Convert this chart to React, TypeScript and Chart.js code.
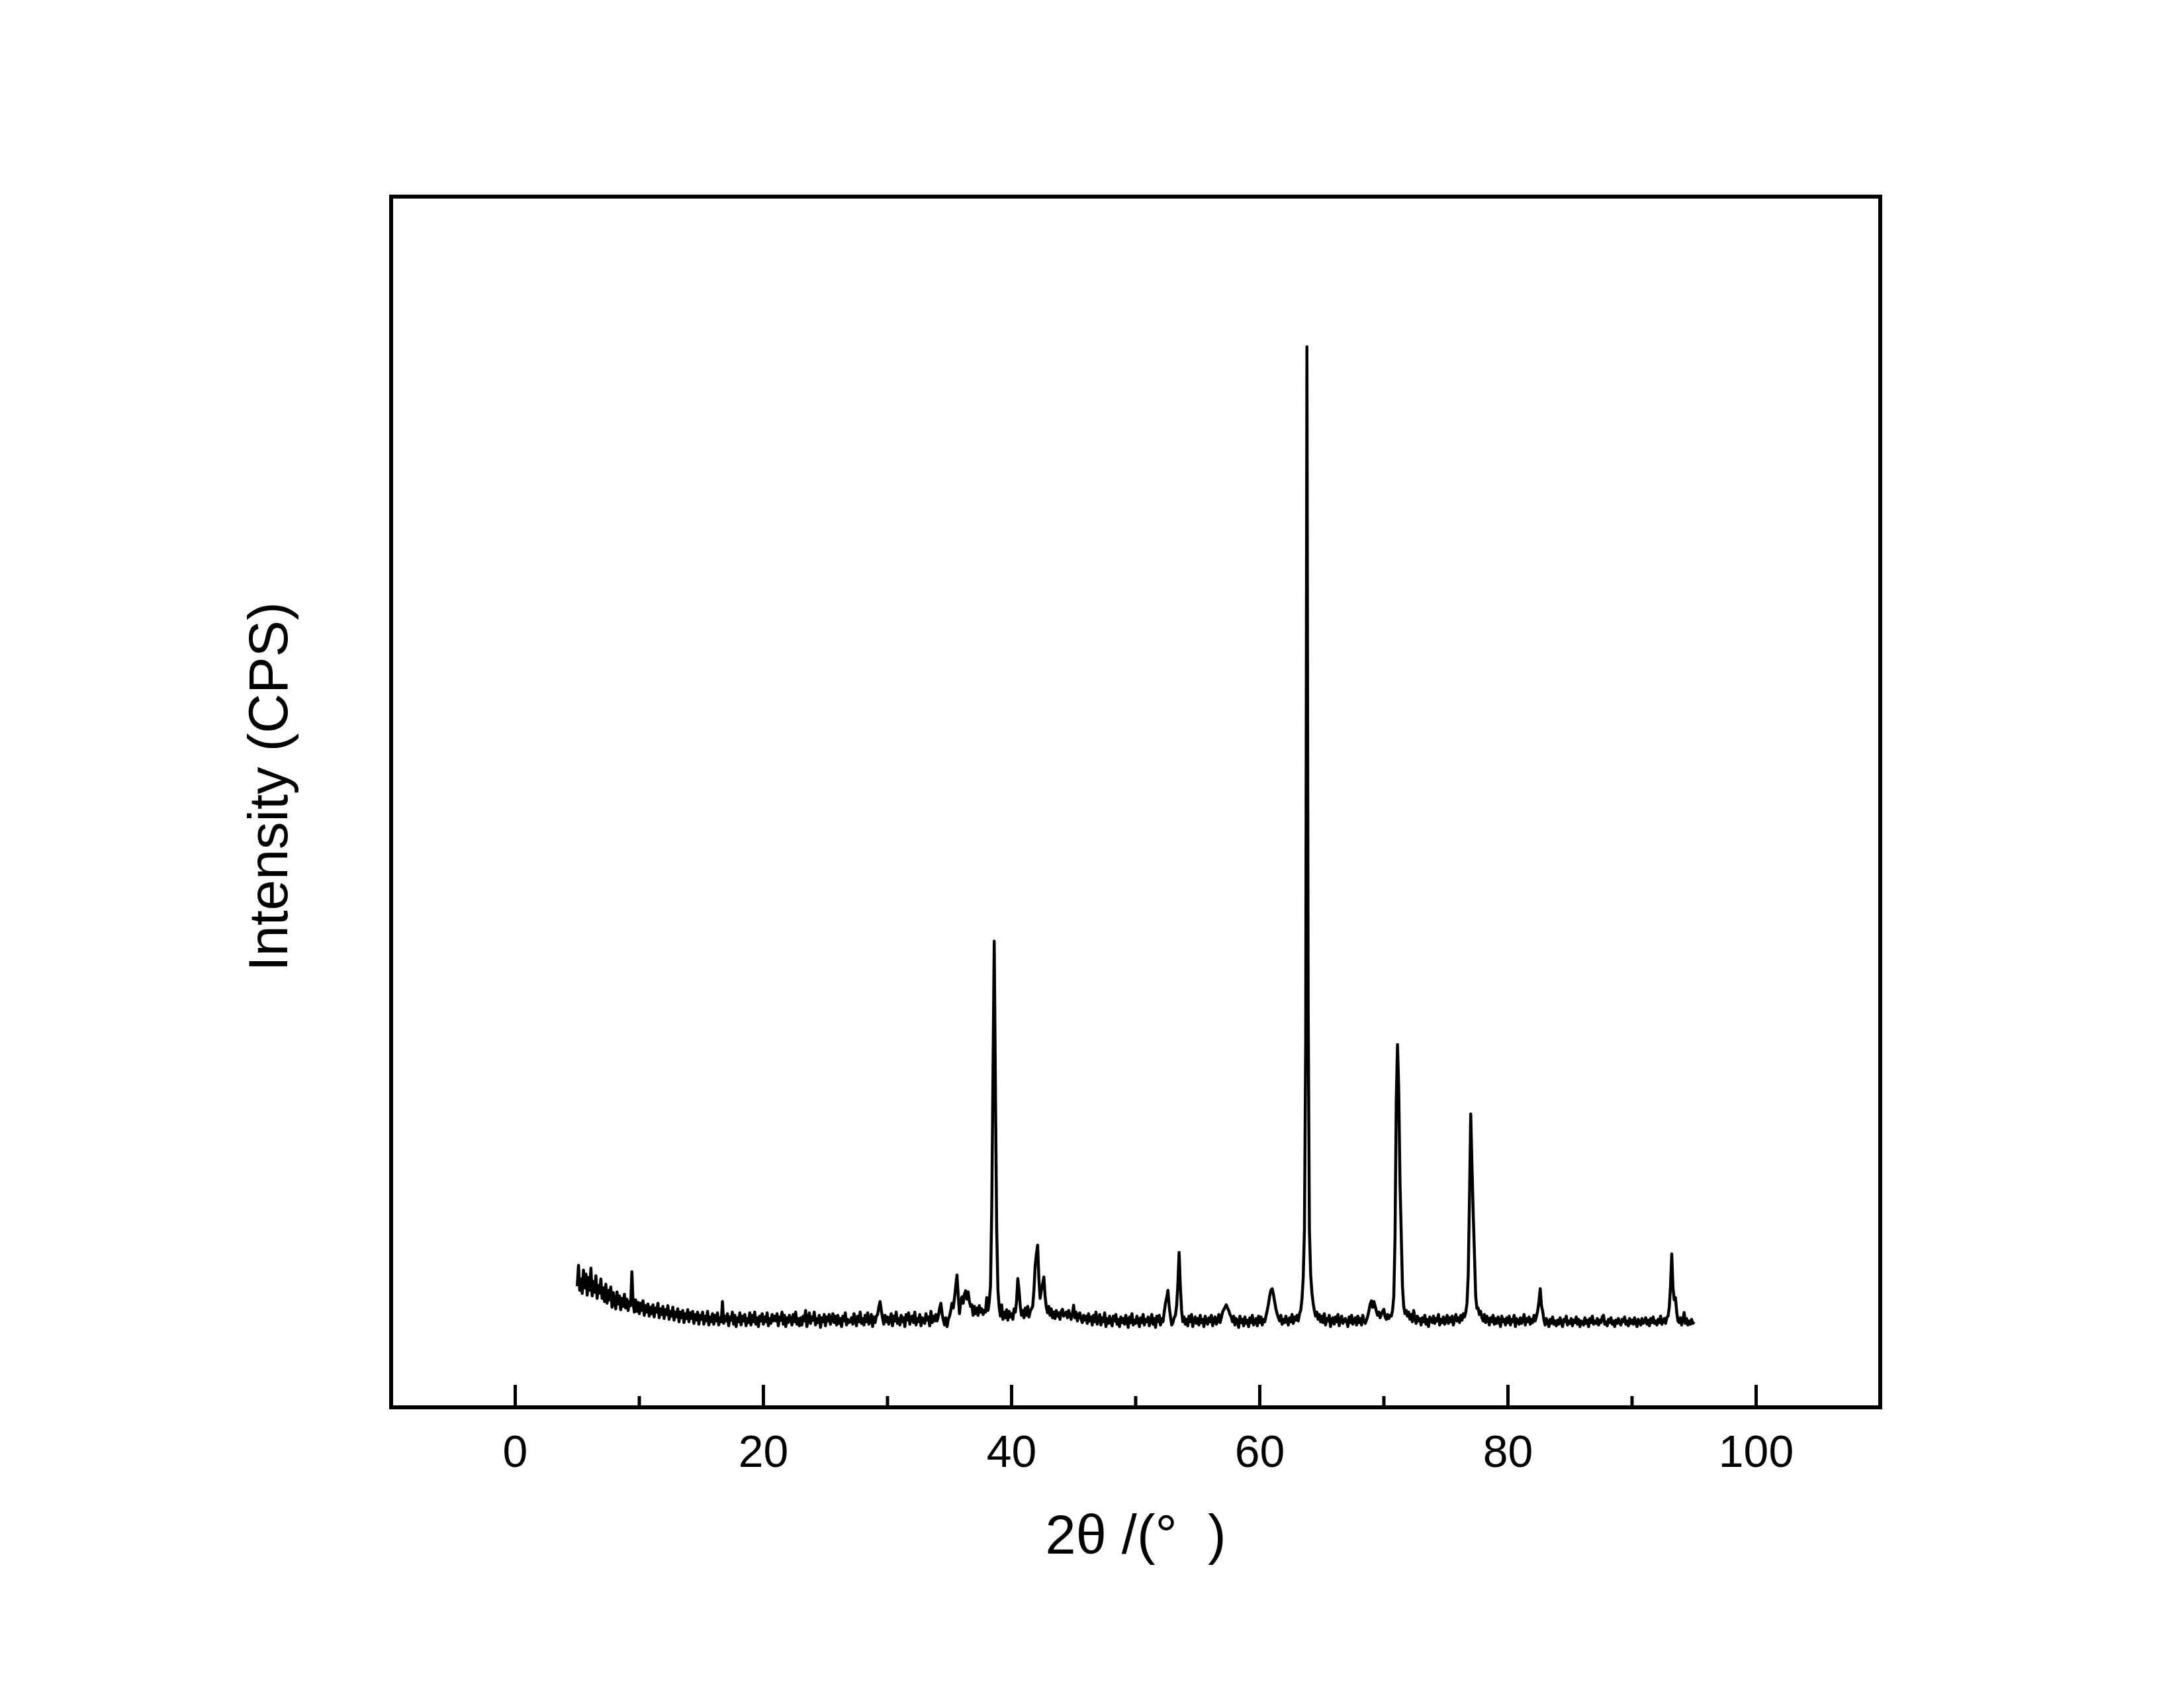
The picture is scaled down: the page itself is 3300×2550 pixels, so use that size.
import React, { useEffect, useRef } from "react";
import { Chart, registerables } from "chart.js";

Chart.register(...registerables);

// ---------- data (counts, 0.1° scan step) ----------
const SCAN_STEP = 0.1;

const counts5to20 = [
  300, 352, 290, 318, 282, 340, 296, 330, 278, 322,
  290, 345, 276, 312, 285, 326, 270, 302, 283, 318,
  270, 296, 262, 305, 258, 290, 266, 298, 248, 284,
  262, 244, 286, 256, 276, 242, 270, 250, 280, 246,
  268, 240, 262, 252, 336, 258, 236, 266, 238, 260,
  232, 258, 240, 264, 228, 252, 236, 256, 226, 248,
  232, 254, 224, 246, 236, 258, 222, 244, 230, 250,
  220, 242, 230, 252, 218, 238, 226, 248, 216, 236,
  224, 244, 212, 236, 222, 240, 210, 232, 220, 242,
  212, 234, 220, 238, 208, 230, 216, 236, 206, 228,
  218, 236, 206, 226, 214, 238, 204, 224, 212, 232,
  206, 228, 214, 234, 204, 222, 212, 262, 208, 226,
  214, 232, 202, 224, 216, 236, 206, 228, 200, 222,
  212, 234, 204, 226, 214, 230, 202, 220, 210, 234,
  204, 228, 212, 236, 206, 222, 200, 226, 214, 232,
];

const counts20to35 = [
  206, 224, 212, 234, 202, 220, 208, 230, 214, 226,
  214, 232, 202, 224, 216, 236, 206, 228, 200, 222,
  210, 228, 218, 204, 230, 212, 236, 206, 220, 202,
  222, 204, 226, 214, 240, 200, 218, 234, 208, 224,
  216, 236, 204, 220, 210, 228, 198, 222, 212, 230,
  202, 224, 214, 230, 206, 218, 232, 210, 226, 204,
  228, 208, 220, 200, 226, 214, 234, 204, 218, 210,
  212, 222, 206, 232, 218, 202, 226, 212, 236, 208,
  220, 204, 228, 212, 234, 206, 216, 230, 200, 224,
  210, 226, 230, 248, 262, 240, 222, 206, 228, 212,
  224, 206, 218, 232, 202, 226, 214, 236, 208, 220,
  204, 228, 212, 222, 200, 230, 216, 234, 206, 224,
  226, 210, 236, 204, 220, 212, 230, 202, 222, 214,
  208, 232, 216, 224, 202, 238, 210, 226, 214, 230,
  214, 226, 246, 258, 232, 216, 204, 222, 200, 218,
];

const counts35to50 = [
  226, 240, 258, 246, 272, 300, 328, 276, 232, 262,
  274, 258, 280, 289, 268, 286, 262, 250, 254, 228,
  250, 232, 246, 228, 252, 236, 244, 230, 240, 236,
  272, 240, 262, 300, 490, 820, 1155, 780, 440, 290,
  248, 226, 254, 218, 236, 222, 242, 216, 238, 224,
  232, 218, 244, 236, 262, 319, 290, 250, 228, 240,
  222, 246, 228, 250, 224, 238, 244, 250, 290, 350,
  380, 402, 318, 270, 290, 305, 323, 275, 248, 234,
  250, 228, 244, 222, 236, 220, 240, 226, 234, 218,
  238, 243, 226, 230, 236, 222, 240, 228, 218, 232,
  253, 222, 236, 214, 230, 234, 218, 210, 228, 216,
  226, 208, 232, 214, 224, 204, 228, 212, 236, 206,
  218, 230, 204, 222, 212, 234, 200, 220, 208, 226,
  212, 202, 226, 214, 230, 206, 218, 200, 224, 210,
  220, 206, 228, 212, 198, 224, 210, 232, 204, 216,
];

const counts50to65 = [
  208, 226, 214, 200, 222, 210, 230, 204, 218, 212,
  224, 202, 216, 230, 206, 220, 198, 226, 212, 228,
  204, 220, 212, 236, 258, 272, 290, 250, 226, 204,
  210, 222, 228, 252, 305, 384, 300, 240, 212, 224,
  206, 218, 202, 226, 212, 230, 200, 216, 224, 208,
  220, 204, 228, 210, 218, 200, 226, 214, 206, 222,
  212, 228, 202, 218, 224, 206, 214, 230, 210, 222,
  236, 242, 248, 254, 246, 240, 230, 224, 212, 226,
  204, 220, 212, 198, 226, 210, 218, 202, 224, 208,
  216, 200, 222, 210, 228, 204, 214, 220, 202, 226,
  210, 224, 204, 218, 212, 226, 240, 256, 276, 290,
  294, 280, 262, 244, 232, 222, 214, 228, 206, 218,
  210, 226, 214, 204, 222, 212, 230, 208, 224, 216,
  228, 214, 232, 240, 268, 320, 440, 900, 2628, 1000,
  440, 330, 285, 258, 240, 226, 236, 218, 230, 212,
];

const counts65to80 = [
  226, 210, 232, 204, 220, 214, 228, 200, 218, 222,
  206, 224, 212, 230, 202, 218, 226, 208, 214, 220,
  212, 200, 224, 210, 228, 206, 216, 222, 204, 226,
  210, 220, 204, 228, 214, 208, 216, 226, 240, 256,
  264, 248, 262, 250, 238, 228, 236, 222, 230, 238,
  243, 224, 218, 230, 220, 228, 226, 240, 275, 420,
  760, 899, 785, 557, 430, 300, 250, 232, 240, 226,
  236, 218, 230, 212, 240, 222, 208, 226, 214, 220,
  204, 222, 212, 228, 206, 218, 200, 224, 214, 210,
  226, 208, 220, 214, 230, 204, 218, 210, 224, 206,
  216, 228, 208, 222, 212, 226, 204, 218, 230, 214,
  222, 210, 228, 216, 232, 224, 236, 258, 330, 520,
  727, 600, 480, 380, 275, 245, 246, 230, 238, 222,
  214, 230, 210, 226, 218, 204, 222, 212, 228, 206,
  220, 208, 224, 214, 200, 226, 212, 218, 204, 222,
];

const counts80to95 = [
  210, 226, 204, 218, 212, 228, 200, 220, 214, 206,
  222, 208, 216, 230, 204, 220, 212, 224, 206, 218,
  210, 228, 214, 226, 240, 262, 294, 252, 238, 216,
  204, 220, 212, 200, 218, 208, 224, 206, 214, 202,
  216, 206, 222, 210, 200, 218, 212, 226, 204, 214,
  208, 220, 202, 216, 210, 224, 206, 218, 200, 214,
  212, 204, 222, 208, 216, 200, 220, 210, 226, 206,
  214, 208, 220, 204, 216, 210, 224, 228, 206, 212,
  202, 218, 210, 222, 206, 214, 200, 216, 208, 220,
  210, 204, 218, 212, 224, 206, 214, 202, 220, 208,
  216, 206, 222, 210, 200, 218, 212, 204, 220, 208,
  212, 222, 206, 216, 202, 220, 210, 224, 208, 214,
  204, 218, 210, 226, 206, 214, 220, 208, 222, 226,
  248, 300, 380, 296, 266, 272, 236, 214, 210, 222,
  204, 218, 235, 208, 220, 204, 214, 206, 218, 208,
  212,
];

const segmentStarts = [5, 20, 35, 50, 65, 80];
const segmentCounts = [counts5to20, counts20to35, counts35to50, counts50to65, counts65to80, counts80to95];

const xTickValues = [0, 20, 40, 60, 80, 100];
const xMinorTickValues = [10, 30, 50, 70, 90];
const X_MIN = -10;
const X_MAX = 110;
const Y_MIN = 0;
const Y_MAX = 3000;

const xTitle = "2θ /(°  )";
const yTitle = "  Intensity (CPS)";

const FONT = "'Liberation Sans', Arial, Helvetica, sans-serif";

export default function App() {
  const canvasRef = useRef<HTMLCanvasElement | null>(null);

  useEffect(() => {
    const canvas = canvasRef.current;
    if (!canvas) return;

    const points: { x: number; y: number }[] = [];
    segmentStarts.forEach((start, s) => {
      segmentCounts[s].forEach((c, i) => {
        points.push({ x: Math.round((start + i * SCAN_STEP) * 10) / 10, y: c });
      });
    });

    const frameAndTicks = {
      id: "frameAndTicks",
      afterDatasetsDraw(chart: any) {
        const { ctx, chartArea } = chart;
        const { left, right, top, bottom } = chartArea;
        const xs = chart.scales.x;
        ctx.save();
        ctx.strokeStyle = "#000";
        ctx.lineCap = "butt";
        ctx.lineWidth = 5;
        ctx.beginPath();
        xTickValues.forEach((v) => {
          const px = xs.getPixelForValue(v);
          ctx.moveTo(px, bottom);
          ctx.lineTo(px, bottom - 34);
        });
        xMinorTickValues.forEach((v) => {
          const px = xs.getPixelForValue(v);
          ctx.moveTo(px, bottom);
          ctx.lineTo(px, bottom - 17);
        });
        ctx.stroke();
        ctx.lineWidth = 6;
        ctx.lineJoin = "miter";
        ctx.strokeRect(left, top, right - left, bottom - top);
        ctx.restore();
      },
    };

    const chart = new Chart(canvas, {
      type: "line",
      data: {
        datasets: [
          {
            data: points,
            borderColor: "#000",
            backgroundColor: "#000",
            borderWidth: 4.5,
            pointRadius: 0,
            tension: 0,
            fill: false,
            borderJoinStyle: "round",
          } as any,
        ],
      },
      options: {
        animation: false,
        responsive: false,
        devicePixelRatio: 1,
        events: [],
        layout: { padding: { left: 0, top: 297, right: 459, bottom: 0 } },
        plugins: {
          legend: { display: false },
          tooltip: { enabled: false },
          title: { display: false },
        },
        scales: {
          x: {
            type: "linear",
            min: X_MIN,
            max: X_MAX,
            afterBuildTicks: (scale: any) => {
              scale.ticks = xTickValues.map((v) => ({ value: v }));
            },
            afterFit: (scale: any) => {
              scale.height = 424;
            },
            grid: { display: false, drawTicks: false },
            border: { display: false },
            ticks: {
              color: "#000",
              font: { family: FONT, size: 68 },
              padding: 30,
              maxRotation: 0,
              autoSkip: false,
              callback: (v: any) => String(v),
            },
            title: {
              display: true,
              text: xTitle,
              color: "#000",
              font: { family: FONT, size: 83 },
              padding: { top: 0, bottom: 176 },
            },
          },
          y: {
            type: "linear",
            min: Y_MIN,
            max: Y_MAX,
            afterFit: (scale: any) => {
              scale.width = 591;
            },
            grid: { display: false, drawTicks: false },
            border: { display: false },
            ticks: { display: false },
            title: {
              display: true,
              text: yTitle,
              color: "#000",
              font: { family: FONT, size: 83 },
              padding: { top: 361, bottom: 0 },
            },
          },
        },
      } as any,
      plugins: [frameAndTicks],
    });

    return () => {
      chart.destroy();
    };
  }, []);

  return (
    <div style={{ position: "absolute", left: 0, top: 0, width: 3300, height: 2550, background: "#fff" }}>
      <canvas ref={canvasRef} width={3300} height={2550} style={{ display: "block", width: 3300, height: 2550 }} />
    </div>
  );
}
